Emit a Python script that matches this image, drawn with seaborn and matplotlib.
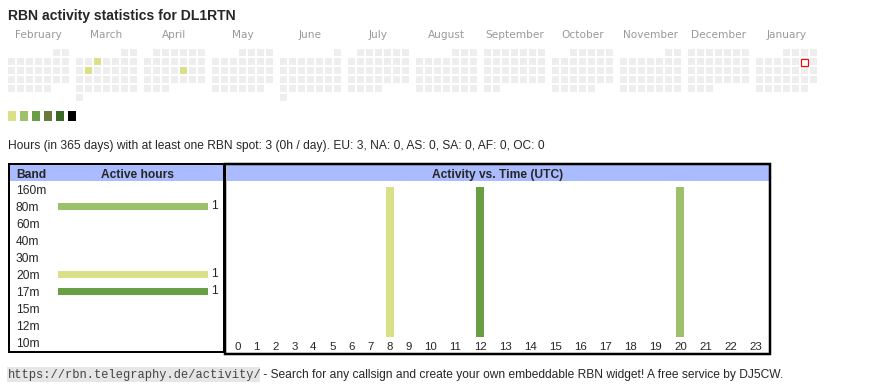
import numpy as np
import pandas as pd
import matplotlib.pyplot as plt
import seaborn as sns
from matplotlib.colors import ListedColormap
from matplotlib.patches import Rectangle

# ---- datos del widget ----
callsign = 'DL1RTN'
month_labels = ['February', 'March', 'April', 'May', 'June', 'July', 'August',
                'September', 'October', 'November', 'December', 'January']
first_month = '2025-02-01'
active_days = ['2025-03-05', '2025-03-11', '2025-04-18']
active_levels = [1, 1, 1]
today = '2026-01-10'
level_colors = ['#d9e088', '#9dc06a', '#689e44', '#687a3b', '#3b6a27', '#000000']

bands = ['160m', '80m', '60m', '40m', '30m', '20m', '17m', '15m', '12m', '10m']
band_hours = [0, 1, 0, 0, 0, 1, 1, 0, 0, 0]
band_colors = ['#cccccc', '#9dc06a', '#cccccc', '#cccccc', '#cccccc',
               '#d9e088', '#689e44', '#cccccc', '#cccccc', '#cccccc']

hours = [str(h) for h in range(24)]
hour_spots = [0, 0, 0, 0, 0, 0, 0, 0, 1, 0, 0, 0, 1, 0, 0, 0, 0, 0, 0, 0, 1, 0, 0, 0]
hour_colors = {'8': '#d9e088', '12': '#689e44', '20': '#9dc06a'}

summary = ('Hours (in 365 days) with at least one RBN spot: 3 (0h / day). '
           'EU: 3, NA: 0, AS: 0, SA: 0, AF: 0, OC: 0')
footer_url = 'https://rbn.telegraphy.de/activity/'
footer_text = ' - Search for any callsign and create your own embeddable RBN widget! A free service by DJ5CW.'

# ---- figura en pixeles ----
W, H = 870, 390
PX = 0.72  # puntos por pixel a 100 dpi
sns.set_theme(style='white')
plt.rcParams['font.family'] = ['Liberation Sans', 'DejaVu Sans']

fig = plt.figure(figsize=(W / 100, H / 100), dpi=100)
bg = fig.add_axes([0, 0, 1, 1])
bg.set_xlim(0, W)
bg.set_ylim(H, 0)
bg.axis('off')


def px_axes(x0, y0, x1, y1):
    ax = fig.add_axes([x0 / W, 1 - y1 / H, (x1 - x0) / W, (y1 - y0) / H])
    ax.set_facecolor('none')
    return ax


bg.text(8, 20, f'RBN activity statistics for {callsign}', fontsize=14 * PX,
        fontweight='bold', va='baseline')

# ---- calendario: un heatmap por mes ----
lvl = dict(zip(pd.to_datetime(active_days), active_levels))
cmap = ListedColormap(['#eeeeee'] + level_colors)
starts = pd.date_range(first_month, periods=len(month_labels), freq='MS')
t = pd.Timestamp(today)
for i, (start, name) in enumerate(zip(starts, month_labels)):
    grid = np.full((6, 7), np.nan)
    for d in pd.date_range(start, start + pd.offsets.MonthEnd(0)):
        grid[(d.day - 1 + start.weekday()) // 7, d.weekday()] = lvl.get(d, 0)
    x0 = 7 + i * 68
    ax = px_axes(x0, 48, x0 + 63, 102)
    sns.heatmap(grid, ax=ax, cmap=cmap, vmin=-0.5, vmax=len(level_colors) + 0.5,
                cbar=False, linewidths=2 * PX, linecolor='white',
                xticklabels=False, yticklabels=False)
    if start.year == t.year and start.month == t.month:
        r, c = (t.day - 1 + start.weekday()) // 7, t.weekday()
        ax.add_patch(Rectangle((c + 1.5 / 9, r + 1.5 / 9), 7 / 9, 7 / 9, fc='white',
                               ec='red', lw=1.2 * PX, zorder=5))
    bg.text(x0 + 31.5, 38.5, name, fontsize=10.5 * PX, color='#999999',
            ha='center', va='baseline', family='DejaVu Sans')

for j, col in enumerate(level_colors):
    bg.add_patch(Rectangle((8 + 12 * j, 111), 8, 10, color=col, lw=0))

bg.text(8, 149.3, summary, fontsize=12 * PX, va='baseline')

# ---- marcos de las tablas ----
bg.add_patch(Rectangle((10, 165), 214.3, 16, color='#aabbff', lw=0))
bg.add_patch(Rectangle((9, 164), 215.3, 187.7, fc='none', ec='black', lw=2 * PX))
bg.add_patch(Rectangle((227, 165.3), 541.7, 15.7, color='#aabbff', lw=0))
bg.add_patch(Rectangle((225.5, 164.3), 544.5, 189.5, fc='none', ec='black', lw=2.5 * PX))
bg.text(16, 177.7, 'Band', fontsize=12 * PX, fontweight='bold', va='baseline')
bg.text(138, 177.7, 'Active hours', fontsize=12 * PX, fontweight='bold',
        ha='center', va='baseline')
bg.text(498, 177.7, 'Activity vs. Time (UTC)', fontsize=12 * PX, fontweight='bold',
        ha='center', va='baseline')

# ---- horas activas por banda ----
df_band = pd.DataFrame({'band': bands, 'hours': band_hours})
axb = px_axes(58, 180.8, 208, 350.8)
sns.barplot(data=df_band, x='hours', y='band', hue='band', orient='y',
            palette=dict(zip(bands, band_colors)), legend=False, width=7 / 17,
            saturation=1, linewidth=0, ax=axb)
axb.set_xlim(0, max(band_hours))
axb.set_xticks([])
axb.set_yticks(np.arange(len(bands)), labels=bands, ha='left')
axb.tick_params(axis='y', length=0, pad=42 * PX, labelsize=12 * PX)
axb.set_xlabel('')
axb.set_ylabel('')
for c in axb.containers:
    axb.bar_label(c, labels=[f'{v:g}' if v else '' for v in c.datavalues],
                  padding=3.5 * PX, fontsize=12 * PX)
sns.despine(ax=axb, left=True, bottom=True)

# ---- actividad por hora (columnas como tabla html) ----
col_w = np.array([13 + 6 * len(h) for h in hours])
centers = np.cumsum(col_w) - col_w / 2
df_hour = pd.DataFrame({'pos': centers, 'hour': hours, 'spots': hour_spots})
hour_palette = {h: hour_colors.get(h, '#cccccc') for h in hours}
axh = px_axes(228, 187, 768, 337)
sns.barplot(data=df_hour, x='pos', y='spots', hue='hour', palette=hour_palette,
            native_scale=True, width=8 / col_w.min(), legend=False, saturation=1,
            linewidth=0, ax=axh)
axh.set_xlim(0, col_w.sum())
axh.set_ylim(0, max(hour_spots))
axh.set_yticks([])
axh.set_xticks(centers, labels=hours)
axh.tick_params(axis='x', length=0, pad=3.5, labelsize=11.5 * PX)
axh.set_xlabel('')
axh.set_ylabel('')
sns.despine(ax=axh, left=True, bottom=True)

# ---- pie ----
bg.add_patch(Rectangle((7, 367), 253, 15, color='#e6e6e6', lw=0))
bg.text(8, 378.3, footer_url, fontsize=12 * PX, family='Liberation Mono',
        color='#444444', va='baseline')
bg.text(260, 378.3, footer_text, fontsize=12 * PX, va='baseline')

plt.savefig('out.png', dpi=100)
plt.close()
